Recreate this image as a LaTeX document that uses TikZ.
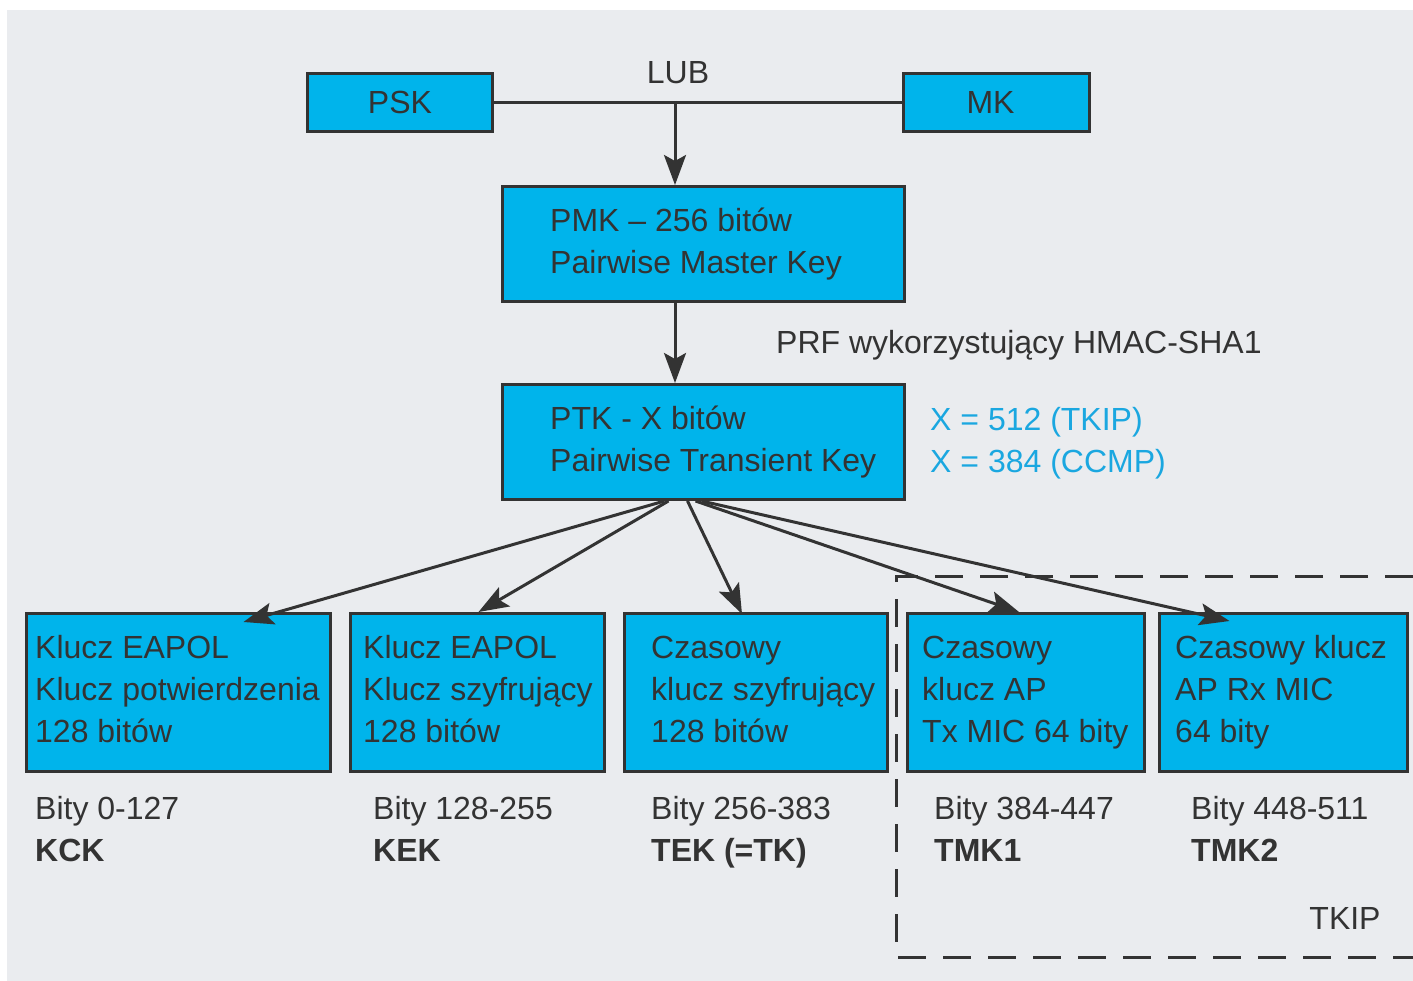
\documentclass[tikz,border=0pt]{standalone}
\usepackage{fontspec}
\setmainfont{Liberation Sans}
\usepackage{xcolor}
\usetikzlibrary{arrows.meta, positioning}

\definecolor{panelgray}{HTML}{EAECEF}
\definecolor{keycyan}{HTML}{00B4EB}
\definecolor{ink}{HTML}{333333}
\definecolor{xblue}{HTML}{1AA7E0}

\begin{document}
\begin{tikzpicture}[x=1pt, y=-1pt,
    every node/.style={font=\fontsize{32pt}{42pt}\selectfont, text=ink},
    keybox/.style 2 args={draw=ink, line width=3pt, fill=keycyan,
        minimum width=#1, minimum height=#2, anchor=north west, inner sep=0pt},
    keytext/.style={anchor=west, align=left, inner sep=0pt,
        execute at begin node=\vphantom{Kl}, execute at end node=\vphantom{y}},
    bits/.style={anchor=west, align=left, inner sep=0pt,
        execute at end node=\vphantom{(}},
    link/.style={draw=ink, line width=3pt},
    arr/.style={link, -{Stealth[length=30pt, width=22pt, inset=6pt]}}]
    \useasboundingbox (0,0) rectangle (1413,981);
    \fill[white] (0,0) rectangle (1413,981);
    \fill[panelgray] (7,10) rectangle (1413,981);

    % top row
    \node[keybox={185pt}{58pt}] (psk) at (306,72) {};
    \node at (psk.center) {PSK};
    \node[keybox={186pt}{58pt}] (mk) at (902,72) {};
    \node at ([xshift=-6pt]mk.center) {MK};
    \node (lub) at (678,73) {LUB};
    \coordinate (fork) at (675,101);

    % PMK, PTK
    \node[keybox={402pt}{115pt}] (pmk) at (501,185) {};
    \node[keytext] (pmk-txt) at ([xshift=49pt]pmk.west) {PMK -- 256 bitów\\Pairwise Master Key};
    \node[keybox={402pt}{115pt}] (ptk) at (501,383) {};
    \node[keytext] (ptk-txt) at ([xshift=49pt]ptk.west) {PTK - X bitów\\Pairwise Transient Key};
    \node[anchor=west, inner sep=0pt] (prf) at (776,345) {PRF wykorzystujący HMAC-SHA1};
    \node[anchor=west, align=left, inner sep=0pt, text=xblue] (xval) at (930,443)
        {X = 512 (TKIP)\\X = 384 (CCMP)};

    % bottom keys
    \node[keybox={304pt}{158pt}] (kck) at (25,612) {};
    \node[keytext] at ([xshift=10pt]kck.west) {Klucz EAPOL\\Klucz potwierdzenia\\128 bitów};
    \node[keybox={254pt}{158pt}] (kek) at (349,612) {};
    \node[keytext] at ([xshift=14pt]kek.west) {Klucz EAPOL\\Klucz szyfrujący\\128 bitów};
    \node[keybox={263pt}{158pt}] (tek) at (623,612) {};
    \node[keytext] at ([xshift=28pt]tek.west) {Czasowy\\klucz szyfrujący\\128 bitów};
    \node[keybox={237pt}{158pt}] (tmk1) at (906,612) {};
    \node[keytext] at ([xshift=16pt]tmk1.west) {Czasowy\\klucz AP\\Tx MIC 64 bity};
    \node[keybox={248pt}{158pt}] (tmk2) at (1158,612) {};
    \node[keytext] at ([xshift=17pt]tmk2.west) {Czasowy klucz\\AP Rx MIC\\64 bity};

    % bit ranges
    \node[bits] (kck-b) at (35,832) {Bity 0-127\\\textbf{KCK}};
    \node[bits] (kek-b) at (373,832) {Bity 128-255\\\textbf{KEK}};
    \node[bits] (tek-b) at (651,832) {Bity 256-383\\\textbf{TEK (=TK)}};
    \node[bits] (tmk1-b) at (934,832) {Bity 384-447\\\textbf{TMK1}};
    \node[bits] (tmk2-b) at (1191,832) {Bity 448-511\\\textbf{TMK2}};

    % TKIP frame
    \draw[draw=ink, line width=3pt, dash pattern=on 28pt off 17pt]
        (1413,576) -- (896,576) -- (896,957) -- (1413,957);
    \node (tkip) at (1345,918) {TKIP};

    % connectors
    \draw[link] (psk.east) -- (mk.west);
    \draw[arr] (fork) -- (fork |- pmk.north);
    \draw[arr] (fork |- pmk.south) -- (fork |- ptk.north);
    \draw[arr] ([xshift=-39pt]ptk.south) -- ([xshift=65pt, yshift=-10pt]kck.north);
    \draw[arr] ([xshift=-35pt]ptk.south) -- ([xshift=1pt]kek.north);
    \draw[arr] ([xshift=-16pt]ptk.south) -- ([xshift=-14pt, yshift=-2pt]tek.north);
    \draw[arr] ([xshift=-8pt]ptk.south) -- ([xshift=-7pt]tmk1.north);
    \draw[arr] ([xshift=-2pt]ptk.south) -- ([xshift=-54pt, yshift=-9pt]tmk2.north);
\end{tikzpicture}
\end{document}
